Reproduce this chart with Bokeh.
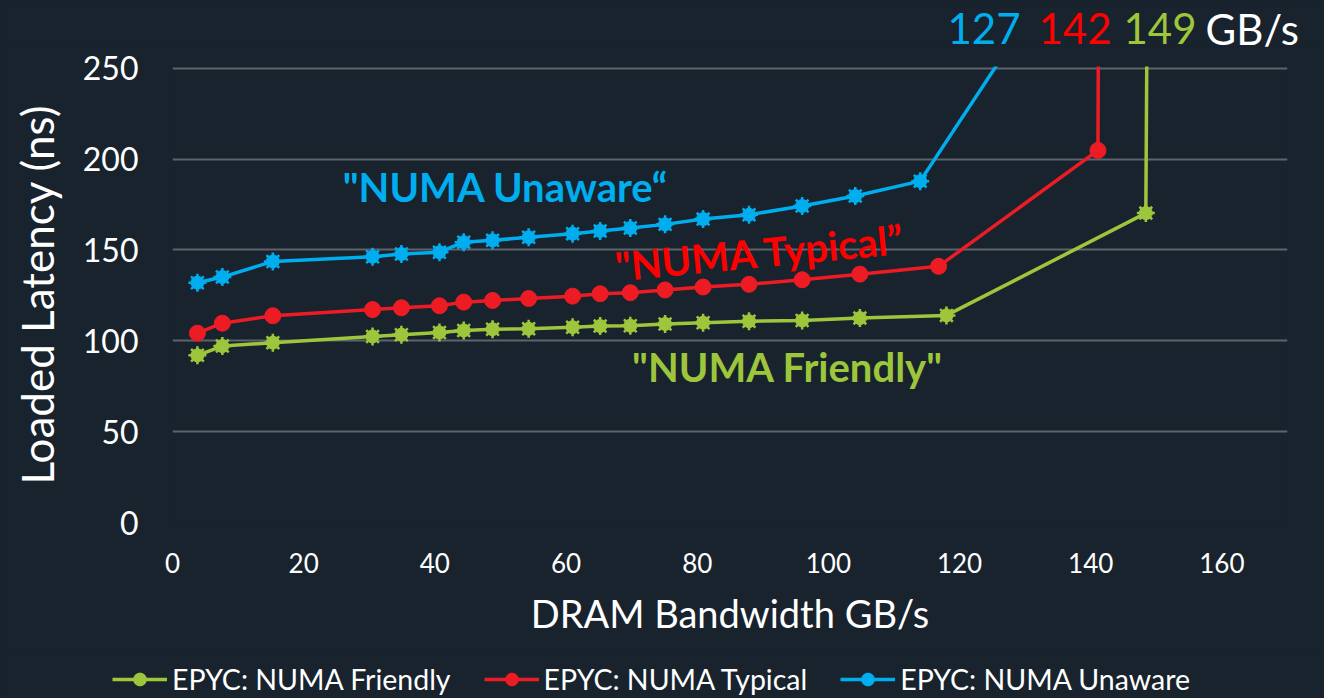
from bokeh.plotting import figure
from bokeh.layouts import column
from bokeh.models import Range1d, Label, Legend, LegendItem, SingleIntervalTicker
from bokeh.embed import file_html
from bokeh.resources import INLINE

# ---- data ----
bw_friendly = [3.8, 7.6, 15.3, 30.5, 34.9, 40.7, 44.4, 48.8, 54.3, 61.0, 65.2, 69.8, 75.1, 80.9, 87.9, 96.0, 104.8, 118.0, 148.4, 148.8]
lat_friendly = [92.0, 97.1, 99.0, 102.4, 103.4, 104.6, 105.7, 106.4, 106.6, 107.5, 108.1, 108.3, 109.3, 110.0, 110.8, 111.2, 112.5, 114.0, 170.3, 400.0]

bw_typical = [3.8, 7.6, 15.3, 30.5, 34.9, 40.7, 44.4, 48.8, 54.3, 61.0, 65.2, 69.8, 75.1, 80.9, 87.9, 96.0, 104.8, 116.8, 141.1, 141.3]
lat_typical = [104.2, 109.7, 113.8, 117.2, 118.2, 119.3, 121.3, 122.2, 123.3, 124.6, 125.9, 126.5, 128.0, 129.6, 131.1, 133.6, 136.7, 141.0, 204.8, 400.0]

bw_unaware = [3.8, 7.6, 15.3, 30.5, 34.9, 40.7, 44.4, 48.8, 54.3, 61.0, 65.2, 69.8, 75.1, 80.9, 87.9, 96.0, 104.1, 114.0, 127.0]
lat_unaware = [132.0, 135.1, 143.7, 146.3, 147.8, 148.8, 154.3, 155.3, 157.0, 159.0, 160.5, 162.1, 164.1, 167.0, 169.4, 174.2, 179.7, 187.9, 259.0]

series_names = ["EPYC: NUMA Friendly", "EPYC: NUMA Typical", "EPYC: NUMA Unaware"]
peak_labels = ["127", "142", "149", "GB/s"]
x_label = "DRAM Bandwidth GB/s"
y_label = "Loaded Latency (ns)"

# ---- style ----
BG = "#18232d"
GREEN = "#9dc63c"
RED = "#ed1c24"
BLUE = "#00aeef"
FONT = "Lato"
W = 1324
LW = 3.5


def blank_fig(h):
    f = figure(width=W, height=h, output_backend="svg", toolbar_location=None,
               x_range=Range1d(0, W), y_range=Range1d(0, h),
               x_axis_type=None, y_axis_type=None, frame_align=False,
               min_border_left=0, min_border_right=0, min_border_top=0, min_border_bottom=0)
    f.background_fill_color = BG
    f.border_fill_color = BG
    f.outline_line_color = None
    f.xgrid.grid_line_color = None
    f.ygrid.grid_line_color = None
    return f


# ---- header with peak bandwidths ----
head = blank_fig(56)
head.margin = (0, 0, -10, 0)
for txt, col, xpos in zip(peak_labels, [BLUE, "#ff0000", GREEN, "white"], [947, 1038, 1123, 1205]):
    head.add_layout(Label(x=xpos, y=28, text=txt, text_color=col, text_font=FONT,
                          text_font_size="42px", text_align="left", text_baseline="middle"))

# ---- main chart ----
p = figure(width=W, height=604, output_backend="svg", toolbar_location=None,
           x_range=Range1d(0, 170), y_range=Range1d(0, 251), frame_align=False,
           min_border_left=172, min_border_right=37, min_border_top=20, min_border_bottom=128)
p.background_fill_color = BG
p.border_fill_color = BG
p.outline_line_color = None

p.xgrid.grid_line_color = None
p.ygrid.grid_line_color = "#5d646b"
p.ygrid.grid_line_width = 2

p.xaxis.ticker = SingleIntervalTicker(interval=20)
p.yaxis.ticker = SingleIntervalTicker(interval=50)
for ax in (p.xaxis[0], p.yaxis[0]):
    ax.axis_line_color = None
    ax.major_tick_line_color = None
    ax.minor_tick_line_color = None
    ax.major_tick_out = 0
    ax.major_tick_in = 0
    ax.minor_tick_out = 0
    ax.major_label_text_color = "white"
    ax.major_label_text_font = FONT
    ax.axis_label_text_color = "white"
    ax.axis_label_text_font = FONT
    ax.axis_label_text_font_style = "normal"

p.xaxis.major_label_text_font_size = "26px"
p.yaxis.major_label_text_font_size = "32px"
p.xaxis.major_label_standoff = 30
p.yaxis.major_label_standoff = 34
p.xaxis.axis_label = x_label
p.yaxis.axis_label = y_label
p.xaxis.axis_label_text_font_size = "38px"
p.yaxis.axis_label_text_font_size = "44px"
p.xaxis.axis_label_standoff = 14
p.yaxis.axis_label_standoff = 17


def spiky(fig, x, y, color):
    l = fig.line(x, y, line_color=color, line_width=LW)
    c = fig.scatter(x, y, marker="circle", size=13, fill_color=color, line_color=color)
    a = fig.scatter(x, y, marker="asterisk", size=18, line_color=color, line_width=2.5)
    return [l, c, a]


def dotted(fig, x, y, color):
    l = fig.line(x, y, line_color=color, line_width=LW)
    c = fig.scatter(x, y, marker="circle", size=16, fill_color=color, line_color=color)
    return [l, c]


spiky(p, bw_friendly, lat_friendly, GREEN)
dotted(p, bw_typical, lat_typical, RED)
spiky(p, bw_unaware, lat_unaware, BLUE)


def lab(x, y, text, color, size, angle=0.0):
    p.add_layout(Label(x=x, y=y, text=text, text_color=color, text_font=FONT,
                       text_font_size=size, text_font_style="bold", text_align="center",
                       text_baseline="middle", angle=angle))


lab(50.8, 184.5, "\"NUMA Unaware\u201c", BLUE, "40px")
lab(89.6, 148.6, "\"NUMA Typical\u201d", "#ff0000", "40px", angle=0.096)
lab(93.8, 85.4, "\"NUMA Friendly\"", GREEN, "40px")

# ---- legend strip (series drawn again here fall outside its visible range) ----
leg = blank_fig(48)
lr_f = spiky(leg, bw_friendly, lat_friendly, GREEN)
lr_t = dotted(leg, bw_typical, lat_typical, RED)
lr_u = spiky(leg, bw_unaware, lat_unaware, BLUE)
legend = Legend(items=[
    LegendItem(label=series_names[0], renderers=lr_f),
    LegendItem(label=series_names[1], renderers=lr_t),
    LegendItem(label=series_names[2], renderers=lr_u),
], location=(112, 2), orientation="horizontal")
legend.background_fill_alpha = 0
legend.border_line_color = None
legend.padding = 0
legend.margin = 0
legend.spacing = 33
legend.glyph_width = 55
legend.glyph_height = 32
legend.label_height = 20
legend.label_standoff = 5
legend.label_text_color = "white"
legend.label_text_font = FONT
legend.label_text_font_size = "28.5px"
leg.add_layout(legend)

layout = column(head, p, leg, spacing=0, styles={"background-color": BG})
open("out.html", "w").write(file_html(layout, INLINE))
